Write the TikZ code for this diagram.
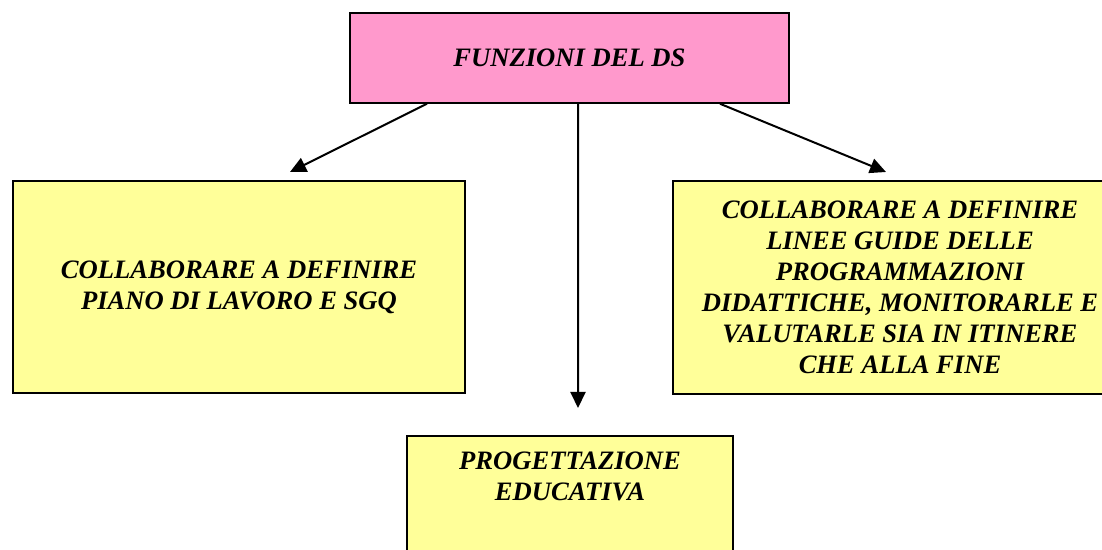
\documentclass[tikz,border=0pt]{standalone}
\usepackage{fontspec}
\setmainfont{Liberation Serif}
\usetikzlibrary{arrows.meta}
\definecolor{rosa}{HTML}{FF99CC}
\definecolor{giallo}{HTML}{FFFF99}
\tikzset{
	box/.style={draw, line width=1.5bp, fill=giallo, inner sep=0pt},
	txt/.style={align=center, inner sep=0pt, font=\fontsize{26.7}{31}\selectfont\bfseries\itshape},
	arr/.style={-{Triangle[length=16bp,width=15bp]}, line width=2bp}
}
\begin{document}
\begin{tikzpicture}[x=1bp,y=-1bp]
	\useasboundingbox (0,0) rectangle (1102,550);
	\node [box, txt, fill=rosa, minimum width=439bp, minimum height=90bp] (ds) at (569.5,58) {FUNZIONI DEL DS};
	\node [box, txt, minimum width=452bp, minimum height=212bp] (piano) at (239,287) {COLLABORARE A DEFINIRE\\PIANO DI LAVORO E SGQ};
	\node [box, txt, minimum width=454bp, minimum height=213bp] (linee) at (900,287.5) {COLLABORARE A DEFINIRE\\LINEE GUIDE DELLE\\PROGRAMMAZIONI\\DIDATTICHE, MONITORARLE E\\VALUTARLE SIA IN ITINERE\\CHE ALLA FINE};
	\node [box, minimum width=326bp, minimum height=150bp] (prog) at (570,511) {};
	\node [txt, anchor=north] (progt) at (570,452) {PROGETTAZIONE\\EDUCATIVA};
	% punte delle frecce
	\coordinate (pl) at (290,172);
	\coordinate (pp) at (578,408);
	\coordinate (pr) at (886,172);
	\draw [arr] ([xshift=-142.5bp]ds.south) -- (pl);
	\draw [arr] ([xshift=8.5bp]ds.south) -- (pp);
	\draw [arr] ([xshift=150.5bp]ds.south) -- (pr);
\end{tikzpicture}
\end{document}
